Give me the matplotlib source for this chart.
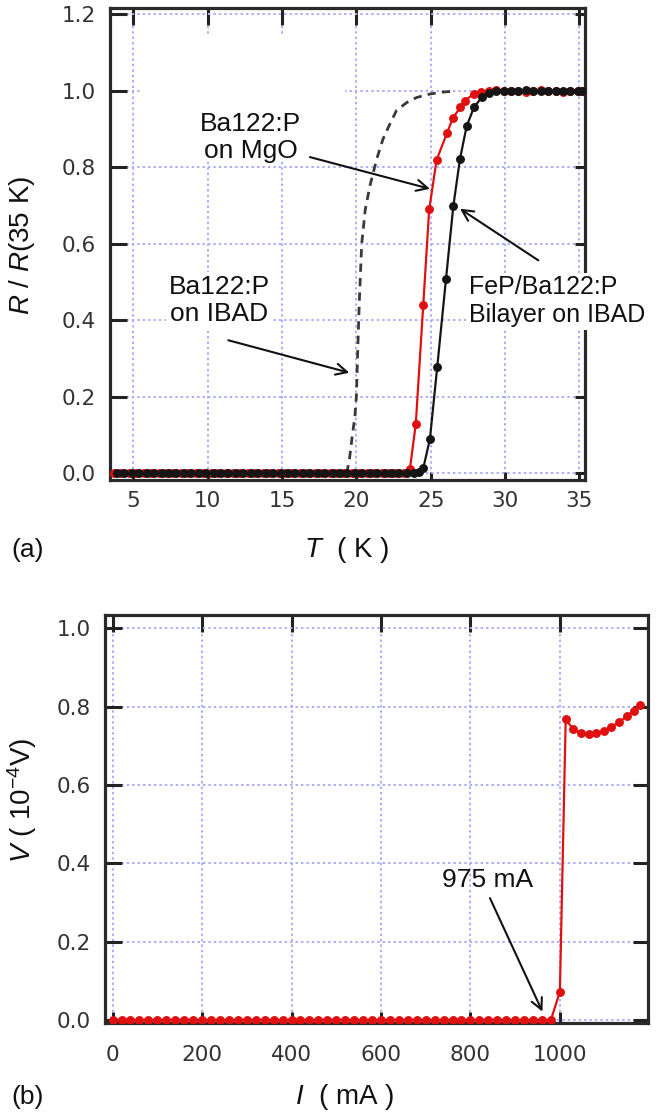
import matplotlib
matplotlib.use('Agg')
import matplotlib.pyplot as plt
from matplotlib.patches import Rectangle

plt.rcParams['mathtext.fontset'] = 'custom'
plt.rcParams['mathtext.rm'] = 'Liberation Sans'
plt.rcParams['mathtext.it'] = 'Liberation Sans:italic'

# ---------------- data: panel (a) ----------------
mgo_T = [3.7, 4.2, 4.7, 5.2, 5.7, 6.2, 6.7, 7.2, 7.7, 8.2, 8.7, 9.2, 9.7, 10.2,
         10.7, 11.2, 11.7, 12.2, 12.7, 13.2, 13.7, 14.2, 14.7, 15.2, 15.7, 16.2,
         16.7, 17.2, 17.7, 18.2, 18.7, 19.2, 19.7, 20.2, 20.7, 21.2, 21.7, 22.2,
         22.7, 23.2, 23.6, 24.0, 24.5, 24.9, 25.4, 26.1, 26.5, 27.0, 27.3, 27.9,
         28.4, 28.9, 29.4, 29.9, 30.4, 30.9, 31.4, 31.9, 32.4, 32.9, 33.4, 33.9,
         34.4, 34.9, 35.2]
mgo_R = [0.0] * 40 + [0.01, 0.13, 0.44, 0.69, 0.82, 0.89, 0.93, 0.957, 0.975, 0.992,
                      0.998, 1.0, 1.002, 0.999, 1.0, 1.001, 0.998, 1.0, 1.002, 0.999,
                      1.0, 0.998, 1.001, 1.0, 0.999]

bilayer_T = [3.9, 4.4, 4.9, 5.4, 5.9, 6.4, 6.9, 7.4, 7.9, 8.4, 8.9, 9.4, 9.9, 10.4,
             10.9, 11.4, 11.9, 12.4, 12.9, 13.4, 13.9, 14.4, 14.9, 15.4, 15.9, 16.4,
             16.9, 17.4, 17.9, 18.4, 18.9, 19.4, 19.9, 20.4, 20.9, 21.4, 21.9, 22.4,
             22.9, 23.4, 23.9, 24.2, 24.5, 24.95, 25.44, 26.03, 26.52, 26.97, 27.42,
             27.91, 28.43, 28.9, 29.4, 29.9, 30.4, 30.9, 31.4, 31.9, 32.4, 32.9, 33.4,
             33.9, 34.4, 34.9, 35.2]
bilayer_R = [0.0] * 41 + [0.003, 0.013, 0.09, 0.278, 0.508, 0.698, 0.822, 0.908, 0.957,
                          0.983, 0.995, 1.0, 1.001, 0.999, 1.0, 1.002, 1.0, 0.999, 1.001,
                          1.0, 1.0, 0.999, 1.001, 1.0]

ibad_T = [19.35, 19.53, 19.7, 19.9, 20.0, 20.1, 20.2, 20.36, 20.6, 20.92, 21.37, 21.8,
          22.26, 22.7, 23.4, 24.06, 24.95, 25.8, 26.7]
ibad_R = [0.0, 0.035, 0.09, 0.148, 0.2, 0.33, 0.45, 0.60, 0.69, 0.753, 0.822, 0.875,
          0.914, 0.949, 0.970, 0.983, 0.992, 0.997, 1.0]

# ---------------- data: panel (b) ----------------
cur_I = [0, 20, 40, 60, 80, 100, 120, 140, 160, 180, 200, 220, 240, 260, 280, 300,
         320, 340, 360, 380, 400, 420, 440, 460, 480, 500, 520, 540, 560, 580, 600,
         620, 640, 660, 680, 700, 720, 740, 760, 780, 800, 820, 840, 860, 880, 900,
         920, 940, 960, 980, 1000, 1013, 1030, 1047, 1064, 1081, 1098, 1115, 1132,
         1149, 1166, 1180]
volt_V = [0.0] * 50 + [0.072, 0.768, 0.742, 0.733, 0.731, 0.733, 0.738, 0.748, 0.760,
                       0.775, 0.790, 0.805]

ticks_T = [5, 10, 15, 20, 25, 30, 35]
ticks_R = [0.0, 0.2, 0.4, 0.6, 0.8, 1.0, 1.2]
ticks_I = [0, 200, 400, 600, 800, 1000]
ticks_V = [0.0, 0.2, 0.4, 0.6, 0.8, 1.0]

RED = '#e01010'
BLK = '#151515'
GRID = '#a9acff'
TXT = 'Liberation Sans'

fig = plt.figure(figsize=(6.66, 11.2), dpi=100)
W, H = 666.0, 1120.0


def rect(l, t, r, b):
    return [l / W, 1 - b / H, (r - l) / W, (b - t) / H]


ax1 = fig.add_axes(rect(110, 8, 585, 480))
ax2 = fig.add_axes(rect(105, 615, 648, 1023))


def style(ax, xt, yt, xlim, ylim, left_len, top_len, bot_len, right_len, xpad):
    ax.set_xlim(*xlim)
    ax.set_ylim(*ylim)
    ax.set_axisbelow(True)
    ax.set_xticks(xt)
    ax.set_xticklabels([f'{v:d}' for v in xt])
    ax.set_yticks(yt)
    ax.set_yticklabels([f'{v:.1f}' for v in yt])
    ax.grid(True, color=GRID, linestyle=(0, (1.2, 1.6)), linewidth=1.4)
    ax.tick_params(axis='x', direction='in', length=top_len, width=2.2, color='#222',
                   pad=xpad, labelsize=15.5, labelcolor='#333', top=True, bottom=True)
    ax.tick_params(axis='y', direction='in', length=left_len, width=2.2, color='#222',
                   pad=10, labelsize=15.5, labelcolor='#333', left=True, right=True)
    for t in ax.xaxis.get_major_ticks():
        t.tick1line.set_markersize(bot_len)
        t.tick2line.set_markersize(top_len)
    for t in ax.yaxis.get_major_ticks():
        t.tick1line.set_markersize(left_len)
        t.tick2line.set_markersize(right_len)
    for lab in ax.get_xticklabels() + ax.get_yticklabels():
        lab.set_family('DejaVu Sans')
    for s in ax.spines.values():
        s.set_linewidth(2.3)
        s.set_color('#2a2a2a')


style(ax1, ticks_T, ticks_R, (3.43, 35.38), (-0.0175, 1.217), 12, 12, 6, 7, 8)
style(ax2, ticks_I, ticks_V, (-17, 1197), (-0.008, 1.034), 12, 12, 8, 11, 16)

# white patch that hides grid behind the MgO label
ax1.add_patch(Rectangle((5.45, 0.818), 19.24 - 5.45, 1.144 - 0.818, facecolor='white',
                        edgecolor='none', zorder=0.8))

# ---------------- panel (a) curves ----------------
ax1.plot(ibad_T, ibad_R, color='#3a3a3a', lw=2.0, linestyle=(0, (3.0, 2.2)), zorder=2)
ax1.plot(mgo_T, mgo_R, color=RED, lw=1.6, marker='o', ms=5.4, mec=RED, mfc=RED, zorder=3)
ax1.plot(bilayer_T, bilayer_R, color=BLK, lw=1.6, marker='o', ms=5.4, mec=BLK, mfc=BLK,
         zorder=3.2)

arrow = dict(arrowstyle='->', lw=1.5, color='#111', shrinkA=0, shrinkB=0, mutation_scale=20)
ax1.annotate('', xy=(24.95, 0.744), xytext=(16.88, 0.827), arrowprops=arrow)
ax1.annotate('', xy=(19.53, 0.263), xytext=(11.39, 0.348), arrowprops=arrow)
ax1.annotate('', xy=(26.97, 0.692), xytext=(32.24, 0.557), arrowprops=arrow)

ax1.text(12.9, 0.878, 'Ba122:P\non MgO', family=TXT, fontsize=19, ha='center',
         va='center', color='#111', linespacing=1.15, zorder=4)
ax1.text(10.76, 0.452, 'Ba122:P\non IBAD', family=TXT, fontsize=19, ha='center',
         va='center', color='#111', linespacing=1.15, zorder=4,
         bbox=dict(facecolor='white', edgecolor='none', pad=2))
ax1.text(27.58, 0.45, 'FeP/Ba122:P\nBilayer on IBAD', family=TXT, fontsize=18, ha='left',
         va='center', color='#111', linespacing=1.2, zorder=4,
         bbox=dict(facecolor='white', edgecolor='none', pad=2))

# ---------------- panel (b) curve ----------------
ax2.plot(cur_I, volt_V, color=RED, lw=1.6, marker='o', ms=5.4, mec=RED, mfc=RED, zorder=3)
ax2.annotate('', xy=(961, 0.021), xytext=(843.6, 0.311), arrowprops=arrow)
ax2.text(839, 0.357, '975 mA', family=TXT, fontsize=19, ha='center', va='center',
         color='#111', zorder=4)

# ---------------- labels ----------------
fig.text(347 / W, 1 - 550 / H, r'$T$  ( K )', family=TXT, fontsize=20, ha='center',
         va='center', color='#111')
fig.text(28 / W, 1 - 550 / H, '(a)', family=TXT, fontsize=19, ha='center', va='center',
         color='#111')
fig.text(22 / W, 1 - 245 / H, r'$R$ / $R$(35 K)', family=TXT, fontsize=20, ha='center',
         va='center', rotation=90, color='#111')
fig.text(345 / W, 1 - 1097 / H, r'$I$  ( mA )', family=TXT, fontsize=20, ha='center',
         va='center', color='#111')
fig.text(28 / W, 1 - 1097 / H, '(b)', family=TXT, fontsize=19, ha='center', va='center',
         color='#111')
fig.text(22 / W, 1 - 800 / H, r'$V$ ( 10$^{\mathregular{-4}}$V)', family=TXT, fontsize=20,
         ha='center', va='center', rotation=90, color='#111')

fig.savefig('out.png', dpi=100)
